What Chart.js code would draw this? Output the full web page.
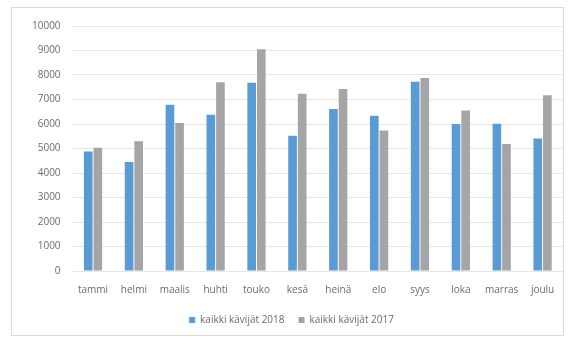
<!DOCTYPE html>
<html>
<head>
<meta charset="utf-8">
<script src="https://cdn.jsdelivr.net/npm/chart.js@4"></script>
<style>
  html, body { margin: 0; padding: 0; background: #fff; }
  #box { position: absolute; left: 11px; top: 7px; width: 553px; height: 329px; border: 1px solid #dadada; box-sizing: border-box; }
  canvas { display: block; }
</style>
</head>
<body>
<div id="box"><canvas id="chart"></canvas></div>
<script>
// kuukaudet
const months = ['tammi', 'helmi', 'maalis', 'huhti', 'touko', 'kesä', 'heinä', 'elo', 'syys', 'loka', 'marras', 'joulu'];
const visitors2018 = [4880, 4450, 6790, 6380, 7680, 5520, 6610, 6340, 7720, 6000, 6010, 5410];
const visitors2017 = [5030, 5300, 6040, 7700, 9050, 7230, 7430, 5730, 7880, 6550, 5180, 7170];
const yTicks = [0, 1000, 2000, 3000, 4000, 5000, 6000, 7000, 8000, 9000, 10000];

const textColor = '#6b6b6b';
Chart.defaults.font.family = "'Open Sans', 'Liberation Sans', sans-serif";
Chart.defaults.font.size = 10;
Chart.defaults.color = textColor;

new Chart(document.getElementById('chart'), {
    type: 'bar',
    data: {
        labels: months,
        datasets: [
            { label: 'kaikki kävijät 2018', data: visitors2018, backgroundColor: '#5b9bd5' },
            { label: 'kaikki kävijät 2017', data: visitors2017, backgroundColor: '#a5a5a5' }
        ]
    },
    options: {
        responsive: true,
        maintainAspectRatio: false,
        animation: false,
        categoryPercentage: 0.47,
        barPercentage: 0.9,
        layout: { padding: { top: 16, left: 8, right: 0, bottom: 0 } },
        plugins: {
            tooltip: { enabled: false },
            legend: {
                position: 'bottom',
                labels: { boxWidth: 6, boxHeight: 6, padding: 14, color: textColor }
            }
        },
        scales: {
            x: {
                grid: { display: false },
                border: { display: false },
                ticks: { maxRotation: 0, autoSkip: false, padding: 5 }
            },
            y: {
                min: 0,
                max: 10000,
                afterBuildTicks: axis => { axis.ticks = yTicks.map(v => ({ value: v })); },
                grid: { color: '#e6e6e6', drawTicks: false },
                border: { display: false },
                ticks: { padding: 12, callback: v => String(v) }
            }
        }
    }
});
</script>
</body>
</html>
